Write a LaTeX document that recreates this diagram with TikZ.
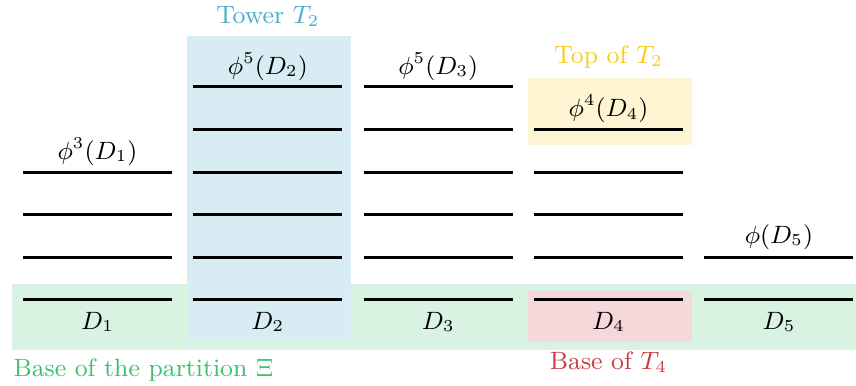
\documentclass[tikz,border=0pt]{standalone}
\usetikzlibrary{positioning}
\definecolor{towerblue}{HTML}{4BADC8}
\definecolor{basegreen}{HTML}{3CC070}
\definecolor{topyellow}{HTML}{F8CC1C}
\definecolor{basered}{HTML}{C83C44}
\tikzset{
  level/.style={line width=1pt},
  band/.style={draw=none},
  lab/.style={inner sep=1pt,font=\small,scale=0.93,transform shape}
}

\begin{document}
\begin{tikzpicture}
    \useasboundingbox (-0.27,-1.0) rectangle (9.78,3.52);
    % shaded regions
    \fill[band,basegreen!20] (-0.13,0.19) rectangle (9.78,-0.59);
    \fill[band,towerblue!22] (1.925,3.10) rectangle (3.85,-0.50);
    \fill[band,topyellow!20] (5.93,2.61) rectangle (7.85,1.82);
    \fill[band,basered!20] (5.93,0.106) rectangle (7.85,-0.50);
    % levels of each column
    \foreach \c/\n in {0/3,1/5,2/5,3/4,4/1}
      \foreach \k in {0,...,\n}
        \draw[level] (2*\c,0.5*\k) -- ++(1.75,0);
    \node[lab] (d1) at (0.875,-0.26) {$D_1$};
    \node[lab] (d2) at (2.875,-0.26) {$D_2$};
    \node[lab] (d3) at (4.875,-0.26) {$D_3$};
    \node[lab] (d4) at (6.875,-0.26) {$D_4$};
    \node[lab] (d5) at (8.875,-0.26) {$D_5$};
    \node[lab] (t1) at (0.875,1.74) {$\phi^3(D_1)$};
    \node[lab] (t2) at (2.875,2.74) {$\phi^5(D_2)$};
    \node[lab] (t3) at (4.875,2.74) {$\phi^5(D_3)$};
    \node[lab] (t4) at (6.875,2.24) {$\phi^4(D_4)$};
    \node[lab] (t5) at (8.875,0.74) {$\phi(D_5)$};
    \node[lab,text=towerblue] (tower) at (2.875,3.33) {Tower $T_2$};
    \node[lab,text=topyellow] (top) at (6.875,2.85) {Top of $T_2$};
    \node[lab,text=basered] (base4) at (6.875,-0.73) {Base of $T_4$};
    \node[lab,text=basegreen,anchor=west] (basexi) at (-0.15,-0.82) {Base of the partition $\Xi$};
  \end{tikzpicture}
\end{document}
